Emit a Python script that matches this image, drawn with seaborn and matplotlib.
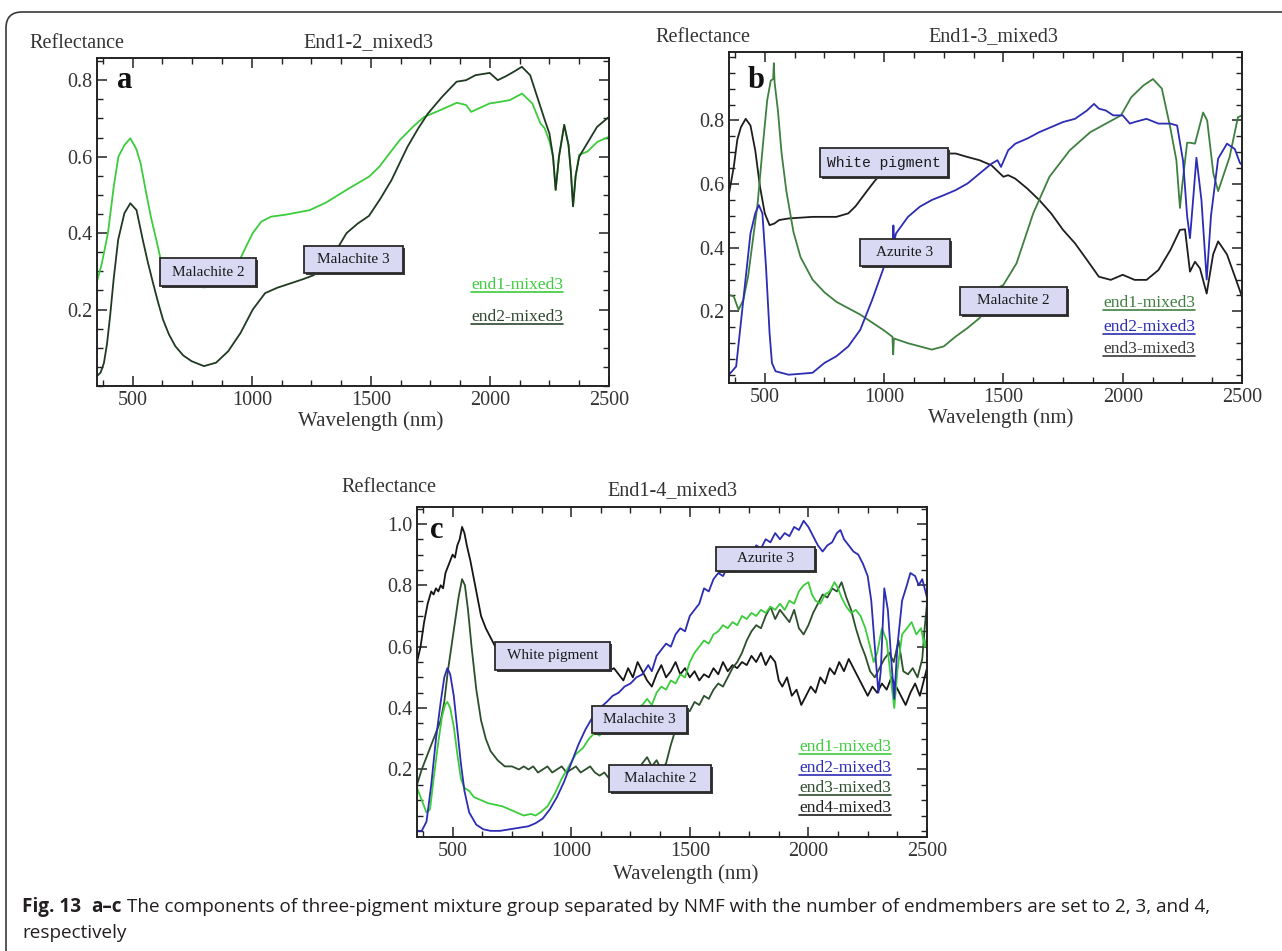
import numpy as np
import pandas as pd
import matplotlib
matplotlib.use("Agg")
import matplotlib.pyplot as plt
import seaborn as sns
from matplotlib.ticker import MultipleLocator, FixedLocator
from matplotlib.patches import Rectangle, FancyBboxPatch
from matplotlib.lines import Line2D
from matplotlib.transforms import IdentityTransform

# ---------------- data ----------------
# panel a  (End1-2_mixed3)
a_end1_wl = [350, 370, 396, 420, 440, 465, 490, 515, 533, 555, 576, 600, 616, 640, 680, 720, 765, 800, 833, 870,
             910, 953, 980, 1004, 1040, 1081, 1141, 1243, 1312, 1398, 1493, 1536, 1580, 1621, 1680, 1724, 1793,
             1861, 1900, 1921, 1960, 1998, 2040, 2084, 2135, 2178, 2212, 2230, 2250, 2265, 2276, 2290, 2312, 2330,
             2340, 2349, 2360, 2375, 2409, 2452, 2500]
a_end1_r = [0.274, 0.32, 0.40, 0.52, 0.60, 0.63, 0.648, 0.62, 0.583, 0.51, 0.443, 0.38, 0.335, 0.30, 0.275, 0.265,
            0.26, 0.258, 0.26, 0.275, 0.30, 0.335, 0.37, 0.40, 0.43, 0.443, 0.448, 0.46, 0.48, 0.513, 0.548, 0.574,
            0.61, 0.643, 0.68, 0.704, 0.722, 0.741, 0.735, 0.717, 0.728, 0.739, 0.743, 0.748, 0.765, 0.739, 0.687,
            0.674, 0.64, 0.60, 0.513, 0.60, 0.683, 0.63, 0.56, 0.47, 0.55, 0.605, 0.613, 0.639, 0.652]
a_end2_wl = [350, 365, 379, 392, 405, 420, 439, 465, 490, 516, 542, 563, 585, 606, 627, 652, 679, 712, 747, 799,
             850, 901, 953, 1004, 1056, 1107, 1160, 1218, 1260, 1300, 1350, 1398, 1445, 1492, 1540, 1587, 1654,
             1700, 1740, 1800, 1860, 1900, 1939, 1999, 2033, 2066, 2100, 2134, 2169, 2203, 2228, 2250, 2265, 2276,
             2290, 2312, 2330, 2340, 2349, 2360, 2375, 2400, 2450, 2500]
a_end2_r = [0.026, 0.035, 0.06, 0.11, 0.183, 0.28, 0.383, 0.452, 0.478, 0.46, 0.383, 0.325, 0.27, 0.22, 0.174,
            0.135, 0.104, 0.08, 0.065, 0.052, 0.061, 0.091, 0.139, 0.2, 0.243, 0.257, 0.268, 0.28, 0.29, 0.31, 0.35,
            0.40, 0.425, 0.445, 0.49, 0.539, 0.626, 0.675, 0.713, 0.757, 0.796, 0.80, 0.813, 0.819, 0.80, 0.81,
            0.822, 0.835, 0.813, 0.748, 0.70, 0.66, 0.60, 0.513, 0.60, 0.683, 0.63, 0.56, 0.47, 0.55, 0.60, 0.626,
            0.678, 0.704]

# panel b  (End1-3_mixed3)
b_end1_wl = [350, 370, 390, 410, 430, 450, 470, 490, 510, 525, 535, 538, 541, 555, 570, 590, 620, 650, 700, 750,
             800, 850, 900, 950, 1000, 1035, 1038, 1041, 1100, 1150, 1200, 1250, 1300, 1350, 1400, 1450, 1486, 1500,
             1555, 1625, 1693, 1778, 1864, 1993, 2036, 2087, 2127, 2164, 2199, 2225, 2240, 2250, 2270, 2282, 2303,
             2337, 2354, 2380, 2400, 2448, 2483, 2500]
b_end1_r = [0.252, 0.247, 0.205, 0.236, 0.31, 0.424, 0.539, 0.706, 0.863, 0.925, 0.93, 0.98, 0.92, 0.831, 0.70,
            0.58, 0.45, 0.37, 0.30, 0.26, 0.23, 0.21, 0.19, 0.165, 0.14, 0.12, 0.065, 0.115, 0.1, 0.09, 0.08, 0.09,
            0.121, 0.148, 0.179, 0.23, 0.278, 0.283, 0.351, 0.508, 0.623, 0.706, 0.763, 0.816, 0.873, 0.91, 0.93,
            0.9, 0.779, 0.675, 0.525, 0.60, 0.73, 0.73, 0.727, 0.825, 0.80, 0.633, 0.578, 0.685, 0.81, 0.816]
b_end2_wl = [350, 380, 410, 440, 460, 475, 490, 505, 520, 530, 545, 600, 700, 750, 800, 850, 900, 950, 1000, 1036,
             1039, 1042, 1050, 1100, 1150, 1200, 1250, 1300, 1350, 1400, 1450, 1475, 1490, 1520, 1550, 1600, 1650,
             1700, 1750, 1800, 1850, 1880, 1900, 1930, 1960, 2000, 2030, 2050, 2100, 2150, 2200, 2228, 2253, 2270,
             2282, 2295, 2309, 2330, 2352, 2370, 2400, 2437, 2470, 2491, 2500]
b_end2_r = [0.001, 0.027, 0.236, 0.445, 0.508, 0.534, 0.508, 0.341, 0.132, 0.038, 0.012, 0.001, 0.007, 0.038,
            0.059, 0.09, 0.142, 0.236, 0.341, 0.42, 0.47, 0.42, 0.445, 0.497, 0.529, 0.55, 0.565, 0.581, 0.602,
            0.633, 0.664, 0.675, 0.654, 0.706, 0.727, 0.743, 0.763, 0.779, 0.795, 0.805, 0.831, 0.852, 0.837,
            0.831, 0.816, 0.816, 0.79, 0.795, 0.805, 0.79, 0.79, 0.784, 0.673, 0.50, 0.43, 0.55, 0.683, 0.55, 0.30,
            0.50, 0.68, 0.727, 0.71, 0.667, 0.66]
b_end3_wl = [350, 370, 385, 400, 420, 440, 460, 480, 500, 520, 540, 560, 600, 700, 800, 850, 880, 900, 930, 963,
             1000, 1050, 1100, 1150, 1200, 1272, 1300, 1350, 1400, 1450, 1500, 1520, 1550, 1600, 1650, 1700, 1750,
             1800, 1850, 1900, 1950, 2000, 2050, 2100, 2150, 2200, 2240, 2261, 2282, 2303, 2324, 2352, 2379, 2400,
             2437, 2470, 2500]
b_end3_r = [0.57, 0.654, 0.74, 0.779, 0.805, 0.784, 0.706, 0.591, 0.508, 0.471, 0.476, 0.487, 0.492, 0.497, 0.497,
            0.508, 0.53, 0.55, 0.58, 0.612, 0.64, 0.67, 0.685, 0.695, 0.70, 0.696, 0.696, 0.685, 0.675, 0.659, 0.623,
            0.628, 0.617, 0.586, 0.55, 0.508, 0.456, 0.414, 0.362, 0.309, 0.299, 0.315, 0.299, 0.299, 0.33, 0.393,
            0.456, 0.458, 0.325, 0.356, 0.335, 0.256, 0.379, 0.42, 0.379, 0.31, 0.246]

# panel c  (End1-4_mixed3)
c_end1_wl = [350, 370, 390, 405, 420, 440, 455, 468, 478, 490, 505, 520, 535, 550, 570, 590, 620, 650, 680, 710,
             740, 770, 800, 830, 850, 870, 900, 930, 960, 990, 1020, 1050, 1075, 1100, 1120, 1140, 1160, 1180,
             1200, 1220, 1240, 1260, 1280, 1300, 1320, 1340, 1360, 1380, 1400, 1420, 1440, 1460, 1480, 1500, 1520,
             1540, 1560, 1580, 1600, 1620, 1640, 1660, 1680, 1700, 1720, 1740, 1760, 1780, 1800, 1820, 1840, 1860,
             1880, 1900, 1920, 1940, 1960, 1980, 2000, 2015, 2030, 2050, 2070, 2090, 2110, 2125, 2140, 2160, 2180,
             2200, 2220, 2240, 2260, 2275, 2290, 2310, 2330, 2350, 2362, 2375, 2395, 2415, 2435, 2455, 2475, 2490,
             2500]
c_end1_r = [0.14, 0.10, 0.06, 0.07, 0.17, 0.29, 0.37, 0.41, 0.42, 0.40, 0.34, 0.25, 0.17, 0.14, 0.13, 0.11, 0.10,
            0.09, 0.085, 0.08, 0.07, 0.06, 0.05, 0.055, 0.05, 0.06, 0.08, 0.12, 0.17, 0.21, 0.25, 0.27, 0.30, 0.32,
            0.31, 0.34, 0.35, 0.37, 0.36, 0.38, 0.39, 0.38, 0.40, 0.41, 0.43, 0.41, 0.45, 0.47, 0.46, 0.49, 0.48,
            0.51, 0.50, 0.55, 0.58, 0.60, 0.62, 0.61, 0.64, 0.65, 0.67, 0.66, 0.68, 0.67, 0.70, 0.69, 0.71, 0.70,
            0.72, 0.71, 0.73, 0.72, 0.74, 0.72, 0.75, 0.74, 0.78, 0.80, 0.81, 0.77, 0.75, 0.74, 0.77, 0.78, 0.81,
            0.79, 0.76, 0.73, 0.71, 0.72, 0.70, 0.66, 0.60, 0.55, 0.58, 0.66, 0.62, 0.48, 0.40, 0.52, 0.64, 0.66,
            0.68, 0.64, 0.66, 0.60, 0.63]
c_end2_wl = [350, 370, 390, 410, 430, 450, 465, 478, 490, 505, 520, 535, 550, 570, 600, 630, 660, 700, 740, 780,
             820, 850, 880, 910, 940, 970, 1000, 1030, 1060, 1090, 1120, 1150, 1175, 1200, 1225, 1250, 1275, 1300,
             1325, 1340, 1360, 1380, 1400, 1420, 1440, 1460, 1480, 1500, 1520, 1540, 1560, 1580, 1600, 1620, 1640,
             1660, 1680, 1700, 1720, 1740, 1760, 1780, 1800, 1820, 1840, 1860, 1880, 1900, 1920, 1940, 1960, 1980,
             2000, 2020, 2040, 2060, 2080, 2100, 2120, 2135, 2150, 2170, 2190, 2210, 2230, 2250, 2265, 2280, 2295,
             2305, 2320, 2335, 2350, 2362, 2375, 2395, 2415, 2430, 2450, 2465, 2480, 2490, 2500]
c_end2_r = [0.0, 0.0, 0.03, 0.15, 0.30, 0.42, 0.50, 0.53, 0.51, 0.44, 0.33, 0.22, 0.13, 0.06, 0.02, 0.005, 0.0,
            0.0, 0.005, 0.01, 0.015, 0.025, 0.04, 0.07, 0.11, 0.16, 0.22, 0.28, 0.33, 0.37, 0.40, 0.42, 0.44, 0.45,
            0.47, 0.48, 0.50, 0.51, 0.54, 0.52, 0.57, 0.59, 0.61, 0.60, 0.64, 0.66, 0.65, 0.70, 0.72, 0.74, 0.79,
            0.78, 0.82, 0.84, 0.83, 0.86, 0.88, 0.87, 0.90, 0.91, 0.90, 0.93, 0.92, 0.95, 0.94, 0.97, 0.95, 0.97,
            0.96, 0.99, 0.98, 1.01, 0.99, 0.96, 0.93, 0.91, 0.93, 0.94, 0.97, 0.98, 0.95, 0.93, 0.91, 0.90, 0.87,
            0.83, 0.75, 0.60, 0.45, 0.52, 0.79, 0.72, 0.55, 0.43, 0.60, 0.75, 0.80, 0.84, 0.83, 0.80, 0.82, 0.79,
            0.76]
c_end3_wl = [350, 370, 390, 410, 430, 450, 465, 480, 495, 510, 525, 540, 552, 565, 580, 600, 620, 640, 660, 690,
             720, 750, 780, 800, 820, 840, 860, 880, 900, 920, 940, 960, 980, 1000, 1020, 1040, 1060, 1080, 1100,
             1120, 1140, 1160, 1180, 1200, 1240, 1280, 1300, 1320, 1340, 1360, 1380, 1400, 1420, 1440, 1460, 1480,
             1500, 1520, 1540, 1560, 1580, 1600, 1620, 1640, 1660, 1680, 1700, 1720, 1740, 1760, 1780, 1800, 1820,
             1840, 1860, 1880, 1900, 1920, 1940, 1960, 1980, 2000, 2020, 2040, 2060, 2080, 2100, 2120, 2140, 2160,
             2180, 2200, 2220, 2240, 2260, 2280, 2300, 2320, 2340, 2360, 2380, 2400, 2420, 2440, 2460, 2480, 2490,
             2500]
c_end3_r = [0.15, 0.20, 0.24, 0.28, 0.32, 0.36, 0.42, 0.52, 0.60, 0.68, 0.76, 0.82, 0.80, 0.72, 0.60, 0.46, 0.36,
            0.30, 0.26, 0.23, 0.21, 0.21, 0.20, 0.21, 0.20, 0.21, 0.19, 0.20, 0.21, 0.19, 0.20, 0.21, 0.19, 0.20,
            0.21, 0.19, 0.20, 0.21, 0.19, 0.18, 0.19, 0.17, 0.18, 0.17, 0.18, 0.20, 0.22, 0.24, 0.21, 0.23, 0.20,
            0.22, 0.28, 0.33, 0.37, 0.40, 0.39, 0.42, 0.41, 0.44, 0.43, 0.46, 0.48, 0.47, 0.50, 0.53, 0.55, 0.58,
            0.62, 0.65, 0.67, 0.66, 0.70, 0.73, 0.69, 0.72, 0.70, 0.68, 0.72, 0.66, 0.64, 0.67, 0.71, 0.74, 0.77,
            0.76, 0.79, 0.78, 0.81, 0.76, 0.72, 0.66, 0.61, 0.57, 0.52, 0.50, 0.53, 0.56, 0.58, 0.55, 0.62, 0.52,
            0.51, 0.53, 0.50, 0.56, 0.66, 0.74]
c_end4_wl = [350, 365, 380, 395, 410, 420, 430, 440, 450, 460, 470, 480, 490, 500, 510, 520, 530, 540, 550, 560,
             575, 590, 605, 620, 640, 660, 680, 720, 760, 800, 850, 900, 950, 1000, 1050, 1100, 1140, 1160, 1180,
             1200, 1220, 1240, 1260, 1280, 1300, 1320, 1340, 1360, 1380, 1400, 1420, 1440, 1460, 1480, 1500, 1520,
             1540, 1560, 1580, 1600, 1620, 1640, 1660, 1680, 1700, 1720, 1740, 1760, 1780, 1800, 1820, 1840, 1860,
             1875, 1890, 1910, 1930, 1950, 1970, 1990, 2010, 2030, 2050, 2070, 2090, 2110, 2130, 2150, 2170, 2190,
             2210, 2230, 2250, 2270, 2290, 2310, 2330, 2350, 2370, 2390, 2410, 2430, 2450, 2470, 2490, 2500]
c_end4_r = [0.55, 0.60, 0.68, 0.74, 0.78, 0.77, 0.79, 0.78, 0.80, 0.79, 0.84, 0.86, 0.88, 0.90, 0.89, 0.93, 0.95,
            0.99, 0.97, 0.93, 0.88, 0.82, 0.76, 0.70, 0.66, 0.63, 0.60, 0.58, 0.57, 0.56, 0.55, 0.55, 0.54, 0.54,
            0.53, 0.53, 0.54, 0.52, 0.53, 0.51, 0.49, 0.53, 0.50, 0.55, 0.52, 0.49, 0.47, 0.51, 0.54, 0.50, 0.52,
            0.55, 0.51, 0.53, 0.50, 0.52, 0.49, 0.51, 0.50, 0.53, 0.51, 0.55, 0.52, 0.54, 0.53, 0.55, 0.54, 0.57,
            0.55, 0.58, 0.54, 0.57, 0.55, 0.49, 0.47, 0.50, 0.44, 0.46, 0.41, 0.44, 0.47, 0.45, 0.50, 0.48, 0.53,
            0.51, 0.55, 0.52, 0.56, 0.53, 0.50, 0.47, 0.44, 0.47, 0.45, 0.48, 0.46, 0.50, 0.47, 0.44, 0.41, 0.45,
            0.48, 0.44, 0.50, 0.53]

x_ticks = [500, 1000, 1500, 2000, 2500]
titles = ["End1-2_mixed3", "End1-3_mixed3", "End1-4_mixed3"]
panel_letters = ["a", "b", "c"]
legend_a = ["end1-mixed3", "end2-mixed3"]
legend_b = ["end1-mixed3", "end2-mixed3", "end3-mixed3"]
legend_c = ["end1-mixed3", "end2-mixed3", "end3-mixed3", "end4-mixed3"]
caption_parts = ["Fig. 13", "a\u2013c", "The components of three-pigment mixture group separated by NMF with the "
                 "number of endmembers are set to 2, 3, and 4,"]
caption_line2 = "respectively"

# ---------------- style ----------------
W, H = 1282, 951
sns.set_style("ticks")
SERIF = ['Liberation Serif', 'DejaVu Serif']
plt.rcParams['font.family'] = SERIF
plt.rcParams['axes.linewidth'] = 1.4
plt.rcParams['axes.edgecolor'] = '#222222'

fig = plt.figure(figsize=(W / 100, H / 100), dpi=100)
fig.patch.set_facecolor('white')


def fx(px):
    return px / W


def fy(py):
    return 1 - py / H


def make_ax(l, t, r, b):
    return fig.add_axes([fx(l), fy(b), (r - l) / W, (b - t) / H])


def style_ax(ax, ylim, yticks):
    ax.set_xlim(350, 2500)
    ax.set_ylim(*ylim)
    ax.xaxis.set_major_locator(FixedLocator(x_ticks))
    ax.xaxis.set_minor_locator(MultipleLocator(125))
    ax.yaxis.set_major_locator(FixedLocator(yticks))
    ax.yaxis.set_minor_locator(MultipleLocator(0.05))
    ax.set_xticklabels([str(v) for v in x_ticks])
    ax.set_yticklabels(["%.1f" % v for v in yticks])
    ax.tick_params(which='both', direction='in', top=True, right=True, colors='#222222',
                   labelcolor='#333333', labelsize=14.5, pad=3.5)
    ax.tick_params(which='major', length=7, width=1.1)
    ax.tick_params(which='minor', length=4, width=1.0)
    ax.set_xlabel("")
    ax.set_ylabel("")
    for s in ax.spines.values():
        s.set_visible(True)


def draw(ax, wl, r, color):
    df = pd.DataFrame({"wl": wl, "r": r})
    sns.lineplot(data=df, x="wl", y="r", ax=ax, color=color, lw=1.3, sort=False, estimator=None)


GREEN_BRIGHT = '#3ccc3c'
GREEN_MID = '#3f8040'
GREEN_DARK = '#2c4f2c'
DARK = '#1e1e1e'
BLUE = '#2c2cb4'

axa = make_ax(97, 58, 609, 386)
draw(axa, a_end1_wl, a_end1_r, GREEN_BRIGHT)
draw(axa, a_end2_wl, a_end2_r, '#1f3a20')
style_ax(axa, (0, 0.858), [0.2, 0.4, 0.6, 0.8])

axb = make_ax(729, 52, 1242, 383)
draw(axb, b_end3_wl, b_end3_r, DARK)
draw(axb, b_end1_wl, b_end1_r, GREEN_MID)
draw(axb, b_end2_wl, b_end2_r, BLUE)
style_ax(axb, (-0.025, 1.015), [0.2, 0.4, 0.6, 0.8])

axc = make_ax(417, 507, 927, 837)
draw(axc, c_end4_wl, c_end4_r, '#151515')
draw(axc, c_end3_wl, c_end3_r, GREEN_DARK)
draw(axc, c_end1_wl, c_end1_r, GREEN_BRIGHT)
draw(axc, c_end2_wl, c_end2_r, BLUE)
style_ax(axc, (-0.02, 1.055), [0.2, 0.4, 0.6, 0.8, 1.0])

TXT = '#333333'
# axis captions
for (rx, ry), (tx, ty), (wx, wy), title in [((77, 43), (368, 43), (371, 421), titles[0]),
                                             ((703, 37), (993, 37), (1001, 418), titles[1]),
                                             ((389, 487), (672, 491), (686, 874), titles[2])]:
    fig.text(fx(rx), fy(ry), "Reflectance", ha='center', va='center', fontsize=14.5, color=TXT)
    fig.text(fx(tx), fy(ty), title, ha='center', va='center', fontsize=14.5, color=TXT)
    fig.text(fx(wx), fy(wy), "Wavelength (nm)", ha='center', va='center', fontsize=15, color=TXT)

for (lx, ly), letter in zip([(125, 81), (756, 81), (437, 530)], panel_letters):
    fig.text(fx(lx), fy(ly), letter, ha='center', va='center', fontsize=22, fontweight='bold', color='#111111',
             zorder=6)

# annotation boxes (pixel rectangles l, t, r, b)
boxes = [((160, 258, 256, 286), "Malachite 2", SERIF),
         ((304, 246, 403, 273), "Malachite 3", SERIF),
         ((820, 148, 948, 177), "White pigment", ['Liberation Mono', 'DejaVu Sans Mono']),
         ((860, 239, 950, 266), "Azurite 3", SERIF),
         ((960, 287, 1067, 315), "Malachite 2", SERIF),
         ((495, 642, 610, 670), "White pigment", SERIF),
         ((716, 547, 815, 571), "Azurite 3", SERIF),
         ((592, 706, 687, 733), "Malachite 3", SERIF),
         ((609, 765, 711, 792), "Malachite 2", SERIF)]
for (l, t, r, b), label, fam in boxes:
    shadow = Rectangle((l + 2, H - b - 2), r - l, b - t, transform=IdentityTransform(),
                       facecolor='#3a3a3a', edgecolor='none', zorder=4)
    box = Rectangle((l, H - b), r - l, b - t, transform=IdentityTransform(),
                    facecolor='#d9d9f3', edgecolor='#2a2a2a', lw=1.3, zorder=5)
    fig.add_artist(shadow)
    fig.add_artist(box)
    fs = 11 if fam is SERIF else 10.5
    fig.text(fx((l + r) / 2), fy((t + b) / 2), label, ha='center', va='center', fontsize=fs,
             family=fam, color='#1a1a1a', zorder=6)

# legends (underlined coloured labels)
legend_specs = [(471, [285, 317], legend_a, [GREEN_BRIGHT, '#2c472c']),
                (1103, [303, 327, 349], legend_b, [GREEN_MID, BLUE, '#3a3a3a']),
                (799, [747, 768, 788, 808], legend_c, [GREEN_BRIGHT, BLUE, GREEN_DARK, '#1e1e1e'])]
legend_texts = []
for lx, ys, labels, cols in legend_specs:
    for y, lab, col in zip(ys, labels, cols):
        t = fig.text(fx(lx), fy(y), lab, ha='left', va='center', fontsize=12.5, color=col, zorder=6)
        legend_texts.append((t, col))

# border
border = FancyBboxPatch((6, -20), 1300, H - 12 + 20, boxstyle="round,pad=0,rounding_size=16",
                        transform=IdentityTransform(), facecolor='none', edgecolor='#3a3a3a', lw=1.2, zorder=1)
fig.add_artist(border)

fig.canvas.draw()
renderer = fig.canvas.get_renderer()
for t, col in legend_texts:
    bb = t.get_window_extent(renderer)
    yline = bb.y0 + 1
    fig.add_artist(Line2D([bb.x0, bb.x1], [yline, yline], transform=IdentityTransform(), color=col, lw=1.2,
                          zorder=6))

# caption, fitted to the line width of the reference
CAP_FAM = ['Open Sans', 'DejaVu Sans']


def place_caption(fs, x0=22, y=907):
    objs = []
    x = x0
    weights = ['bold', 'bold', 'normal']
    gaps = [0.55, 0.28, 0]
    for s, w, g in zip(caption_parts, weights, gaps):
        t = fig.text(x / W, fy(y), s, ha='left', va='center', fontsize=fs, fontweight=w, family=CAP_FAM,
                     color='#231f20')
        objs.append(t)
        bb = t.get_window_extent(renderer)
        x = bb.x1 + g * fs * 100 / 72
    return objs, x


objs, xend = place_caption(12)
for o in objs:
    o.remove()
fs_cap = 12 * (1205 - 22) / (xend - 22)
objs, xend = place_caption(fs_cap)
fig.text(22 / W, fy(933), caption_line2, ha='left', va='center', fontsize=fs_cap, family=CAP_FAM,
         color='#231f20')

fig.savefig("out.png", dpi=100, facecolor='white')
